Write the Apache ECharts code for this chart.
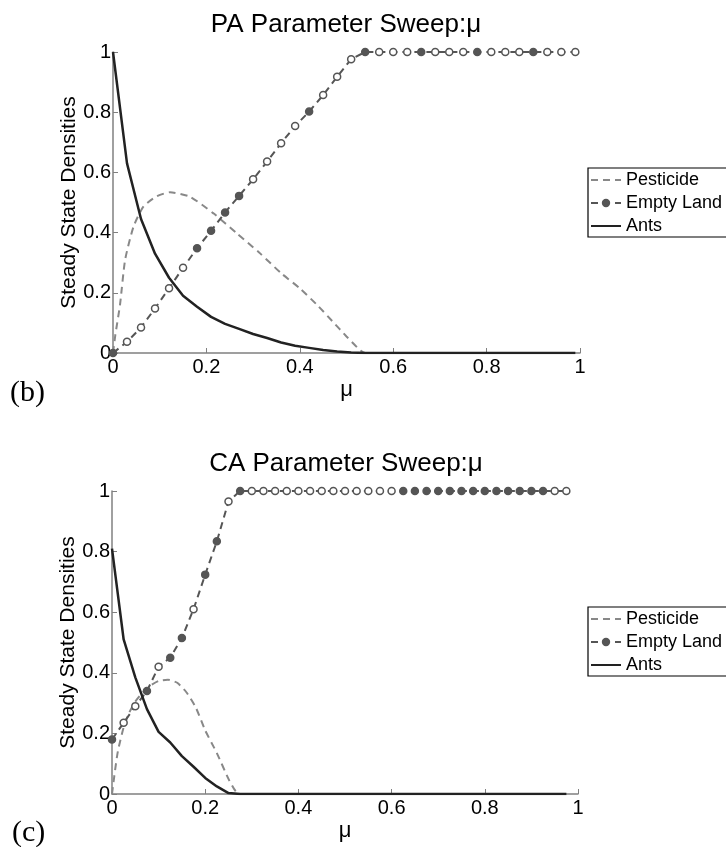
<!DOCTYPE html>
<html>
<head>
<meta charset="utf-8">
<title>Parameter Sweep</title>
<script src="https://cdn.jsdelivr.net/npm/echarts@6/dist/echarts.min.js"></script>
<style>
  html, body { margin: 0; padding: 0; background: #fff; }
  #chart { width: 726px; height: 847px; }
</style>
</head>
<body>
<div id="chart"></div>
<script>
// PA sweep (step 0.03)
const paMu = [0, 0.03, 0.06, 0.09, 0.12, 0.15, 0.18, 0.21, 0.24, 0.27, 0.3, 0.33, 0.36, 0.39, 0.42, 0.45, 0.48, 0.51,
  0.54, 0.57, 0.6, 0.63, 0.66, 0.69, 0.72, 0.75, 0.78, 0.81, 0.84, 0.87, 0.9, 0.93, 0.96, 0.99]
const paEmpty = [0, 0.037, 0.085, 0.148, 0.215, 0.283, 0.348, 0.406, 0.467, 0.522, 0.577, 0.636, 0.697, 0.754, 0.802, 0.857, 0.918, 0.976,
  1, 1, 1, 1, 1, 1, 1, 1, 1, 1, 1, 1, 1, 1, 1, 1]
const paAnts = [1, 0.63, 0.445, 0.33, 0.25, 0.19, 0.154, 0.12, 0.097, 0.08, 0.063, 0.05, 0.035, 0.024, 0.017, 0.01, 0.005, 0.002,
  0, 0, 0, 0, 0, 0, 0, 0, 0, 0, 0, 0, 0, 0, 0, 0]
const paPestMu = [0, 0.005, 0.015, 0.026, 0.044, 0.065, 0.093, 0.122, 0.165, 0.215, 0.265, 0.315, 0.36, 0.4, 0.44, 0.47, 0.5, 0.53, 0.54, 0.99]
const paPest = [0, 0.06, 0.16, 0.31, 0.42, 0.486, 0.52, 0.534, 0.519, 0.464, 0.398, 0.331, 0.265, 0.215, 0.155, 0.105, 0.055, 0.008, 0, 0]

// CA sweep (step 0.025)
const caMu = [0, 0.025, 0.05, 0.075, 0.1, 0.125, 0.15, 0.175, 0.2, 0.225, 0.25, 0.275, 0.3, 0.325, 0.35, 0.375, 0.4, 0.425, 0.45, 0.475,
  0.5, 0.525, 0.55, 0.575, 0.6, 0.625, 0.65, 0.675, 0.7, 0.725, 0.75, 0.775, 0.8, 0.825, 0.85, 0.875, 0.9, 0.925, 0.95, 0.975]
const caEmpty = [0.18, 0.235, 0.29, 0.34, 0.42, 0.45, 0.515, 0.61, 0.724, 0.834, 0.965,
  1, 1, 1, 1, 1, 1, 1, 1, 1, 1, 1, 1, 1, 1, 1, 1, 1, 1, 1, 1, 1, 1, 1, 1, 1, 1, 1, 1, 1]
const caAnts = [0.81, 0.51, 0.385, 0.28, 0.205, 0.17, 0.125, 0.09, 0.053, 0.025, 0.003,
  0, 0, 0, 0, 0, 0, 0, 0, 0, 0, 0, 0, 0, 0, 0, 0, 0, 0, 0, 0, 0, 0, 0, 0, 0, 0, 0, 0, 0]
const caPestMu = [0, 0.005, 0.0125, 0.025, 0.0375, 0.05, 0.075, 0.1, 0.12, 0.14, 0.16, 0.18, 0.2, 0.225, 0.25, 0.265, 0.275, 0.975]
const caPest = [0, 0.06, 0.14, 0.22, 0.27, 0.305, 0.35, 0.373, 0.377, 0.367, 0.335, 0.285, 0.21, 0.135, 0.05, 0.01, 0, 0]

// markers that look solid in the picture
const paFilled = [0, 6, 7, 8, 9, 14, 18, 22, 26, 30]
const caFilled = [0, 3, 5, 6, 8, 9, 11, 25, 26, 27, 28, 29, 30, 31, 32, 33, 34, 35, 36, 37]

const font = 'Liberation Sans, Arial, sans-serif'

const pairs = (xs, ys) => xs.map((x, i) => [x, ys[i]])
const markerData = (xs, ys, filled) => xs.map((x, i) => ({
  value: [x, ys[i]],
  itemStyle: { color: filled.includes(i) ? '#555' : '#fff' }
}))

const makeX = (idx) => ({
  type: 'value', gridIndex: idx, min: 0, max: 1, interval: 0.2,
  name: 'μ', nameLocation: 'middle', nameGap: 26, nameMoveOverlap: false,
  nameTextStyle: { fontSize: 22, color: '#000', fontFamily: font },
  axisLine: { lineStyle: { color: '#808080', width: 1.5 } },
  axisTick: { inside: true, length: 5, lineStyle: { color: '#808080' } },
  axisLabel: { fontSize: 20, color: '#000', margin: 4, fontFamily: font },
  splitLine: { show: false }
})
const makeY = (idx) => ({
  type: 'value', gridIndex: idx, min: 0, max: 1, interval: 0.2,
  name: 'Steady State Densities', nameLocation: 'middle', nameGap: 33, nameMoveOverlap: false,
  nameTextStyle: { fontSize: 21, color: '#000', fontFamily: font },
  axisLine: { show: true, lineStyle: { color: '#808080', width: 1.5 } },
  axisTick: { show: true, inside: true, length: 5, lineStyle: { color: '#808080' } },
  axisLabel: { fontSize: 20, color: '#000', margin: 2, fontFamily: font },
  splitLine: { show: false }
})
const makeLegend = (top) => ({
  data: [
    { name: 'Pesticide', itemStyle: { opacity: 0 } },
    { name: 'Empty Land' },
    { name: 'Ants', itemStyle: { opacity: 0 } }
  ],
  orient: 'vertical', left: 588, top: top,
  itemWidth: 30, itemHeight: 8, itemGap: 5,
  padding: [3, 14, 2, 2],
  borderColor: '#000', borderWidth: 1.2, borderRadius: 0,
  textStyle: { fontSize: 18, color: '#000', fontFamily: font }
})
const makeSeries = (idx, pestMu, pest, mu, empty, ants, filled) => [
  {
    name: 'Pesticide', type: 'line', xAxisIndex: idx, yAxisIndex: idx,
    data: pairs(pestMu, pest), smooth: 0.2, showSymbol: false, symbol: 'none',
    lineStyle: { color: '#888', width: 2, type: [7, 5] },
    itemStyle: { color: '#888' }
  },
  {
    name: 'Empty Land', type: 'line', xAxisIndex: idx, yAxisIndex: idx,
    data: markerData(mu, empty, filled), symbol: 'circle', symbolSize: 7,
    lineStyle: { color: '#555', width: 2, type: [7, 5] },
    itemStyle: { color: '#555', borderColor: '#555', borderWidth: 1.5 }
  },
  {
    name: 'Ants', type: 'line', xAxisIndex: idx, yAxisIndex: idx,
    data: pairs(mu, ants), showSymbol: false, symbol: 'none',
    lineStyle: { color: '#222', width: 2.5 },
    itemStyle: { color: '#222' }
  }
]

const chart = echarts.init(document.getElementById('chart'))
chart.setOption({
  animation: false,
  backgroundColor: '#fff',
  title: [
    { text: 'PA Parameter Sweep:μ', left: 346, top: 12, textAlign: 'center', padding: 0,
      textStyle: { fontSize: 26, fontWeight: 'normal', color: '#000', fontFamily: font } },
    { text: 'CA Parameter Sweep:μ', left: 346, top: 451, textAlign: 'center', padding: 0,
      textStyle: { fontSize: 26, fontWeight: 'normal', color: '#000', fontFamily: font } }
  ],
  legend: [makeLegend(168), makeLegend(607)],
  grid: [
    { left: 113, top: 52, width: 467, height: 301 },
    { left: 112, top: 491, width: 466, height: 303 }
  ],
  xAxis: [makeX(0), makeX(1)],
  yAxis: [makeY(0), makeY(1)],
  graphic: [
    { type: 'text', left: 10, top: 378, style: { text: '(b)', fontSize: 30, fill: '#000', fontFamily: 'Liberation Serif, serif' } },
    { type: 'text', left: 12, top: 818, style: { text: '(c)', fontSize: 30, fill: '#000', fontFamily: 'Liberation Serif, serif' } }
  ],
  series: [
    ...makeSeries(0, paPestMu, paPest, paMu, paEmpty, paAnts, paFilled),
    ...makeSeries(1, caPestMu, caPest, caMu, caEmpty, caAnts, caFilled)
  ]
})
</script>
</body>
</html>
